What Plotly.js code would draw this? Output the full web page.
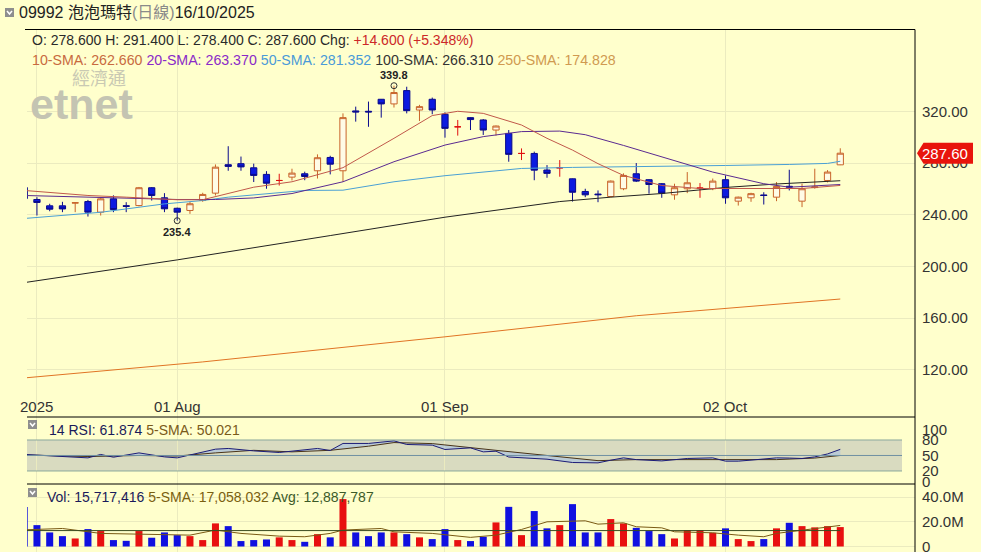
<!DOCTYPE html>
<html><head><meta charset="utf-8">
<script src="https://cdn.plot.ly/plotly-3.0.1.min.js"></script>
<style>html,body{margin:0;padding:0;background:#ffffcc;}#chart{width:981px;height:552px;}</style>
</head><body><div id="chart"></div>
<script>
// ---- data (index -1 = 16 Jul, partly clipped at the left edge) ----
const dates = ["2025-07-16","2025-07-17","2025-07-18","2025-07-21","2025-07-22","2025-07-23","2025-07-24","2025-07-25","2025-07-28","2025-07-29","2025-07-30","2025-07-31",
"2025-08-01","2025-08-04","2025-08-05","2025-08-06","2025-08-07","2025-08-08","2025-08-11","2025-08-12","2025-08-13","2025-08-14","2025-08-15","2025-08-18","2025-08-19","2025-08-20","2025-08-21","2025-08-22","2025-08-25","2025-08-26","2025-08-27","2025-08-28","2025-08-29",
"2025-09-01","2025-09-02","2025-09-03","2025-09-04","2025-09-05","2025-09-08","2025-09-09","2025-09-10","2025-09-11","2025-09-12","2025-09-15","2025-09-16","2025-09-17","2025-09-18","2025-09-19","2025-09-22","2025-09-23","2025-09-24","2025-09-25","2025-09-26","2025-09-29","2025-09-30",
"2025-10-02","2025-10-03","2025-10-06","2025-10-08","2025-10-09","2025-10-10","2025-10-13","2025-10-14","2025-10-15","2025-10-16"];
const open  = [261,251.8,246.9,246.9,249,250.2,242,252.3,247,247.1,260.9,253.1,245,243.3,251,256.7,278.7,279.5,276.3,271.2,266.5,269.1,271.7,274,284.3,274,320.3,320,329.3,325.7,336,321,329.3,317.7,308,315.1,313.3,305.5,302.9,287.4,287.4,274.6,276.3,267.8,258,256,254.1,260.1,271.7,267.1,264,255.4,260.1,260.6,260.1,267.1,250.5,253.1,255.3,253.6,262,250.5,261,266.5,278.6];
const high  = [262,253.6,248.5,250,249.8,251.5,253.6,255,249.7,261.5,261.4,256.7,245.5,250.2,257,278.9,293,285,279.5,273.7,271.7,275.6,273.3,286.7,285.6,318.4,323.6,327.5,329.5,339.8,339,325,330.6,319.2,313.3,315.5,314,309,305.5,291.3,288.8,278.4,282.3,268,260.1,258.8,266.5,272,280,267.5,264.5,264,273,264.5,268,270.4,254,257,257.4,265.3,274.8,264,275.6,274.5,291.4];
const low   = [251.5,239.4,242.7,242,242,238.6,239.4,242,242,246.5,251,242,235.4,240.7,250,254.9,274,274,265.3,260.1,262.6,266.5,266.7,268,271.2,265.5,312,308,315.1,322.9,318.4,312.5,317.7,299.6,301.2,305.5,301.7,301.2,281,282.3,266.7,268.6,269.4,250.2,253.6,249.7,253.5,259,265.3,256.3,253.1,251.6,256.7,253.1,259,248.5,247.1,250,247.9,250.5,258.8,245.9,260.1,265,278.4];
const close = [252.5,249.5,244.3,244.5,249.3,242,252.3,244,246.5,260.9,254.9,244.6,242,248.5,255.7,276.8,277.4,277,270.4,264.4,266.5,272.2,269.6,284.1,279.1,315.1,319.5,319.5,325.7,334.5,320.5,323.6,321,306.8,308,313.6,305.5,308.6,286.7,287.4,274.5,272,276.3,257.4,255.4,255.5,266,270.4,266,263.4,256.7,260.9,264.7,260.6,266,253.1,253.6,256.3,254.9,261.9,261.4,260.1,261.5,273,287.6];
const volumeM = [32,17.3,11.4,8.4,6.5,14.1,12.5,5.2,4.6,12.5,7.1,11.4,9.2,8.4,5.2,18.7,16.5,4.4,5.2,5.7,7.4,5.2,3.8,10,7.4,38.4,11.4,8.4,11.4,11.4,10,7.4,6,14.1,5.2,4.4,7.9,19.5,32.1,9.2,28.7,14.7,17.3,34.3,11.4,11.4,22.2,18.7,15.1,12.5,10,6.5,13.3,13.3,11.1,14.7,6,4.4,6,14.7,19.2,16.5,15.5,16.5,15.717416];

// moving averages (x = bar index)
const sma10X = [-1,4,7,11,13,15,17,20,24,28,31,33,35,38,40,42,44,46,49,52,57,60,63];
const sma10  = [258.8,254.9,253.6,251.6,251.6,256.2,261.3,265.5,276.4,299.1,316.7,320,318.4,309.4,299.1,290,279.5,270.4,262.6,260.3,260.3,260.3,262.66];
const sma20X = [-1,5,11,14,17,20,24,28,32,35,38,41,43,46,49,53,57,59,63];
const sma20  = [254.9,253.3,251.8,251.8,253,256.4,265.5,281,293.9,300.4,304.3,304.7,301.9,293.6,284.6,273,264,261.3,263.37];
const sma50X = [-1,5,10,13,15,21,24,28,32,38,42,50,54,59,62,63];
const sma50  = [237.1,241.9,248.4,251,253.6,258.8,259,265.5,270.2,275.8,276.6,277.4,278.1,278.9,279.7,281.352];
const sma100X = [-1,11,23,32,41,45,49,54,58,63];
const sma100  = [187.5,205.1,223.9,238.1,250.2,253.6,256.4,261.1,263.8,266.31];
const sma250X = [-1,13,32,47,63];
const sma250  = [113.8,126.2,145.6,161.9,174.828];

const rsiX = [-1,2,4,5,6,8,10,11,12,14,15,17,19,20,22,23,24,26,28,29,31,32,34,35,36,37,39,40,42,44,45,46,47,49,51,53,54,55,56,58,59,60,61,62,63];
const rsi  = [52,48.6,45.4,52,46.7,55,47.3,45.4,50.6,62.2,63.6,58.9,55.8,58.3,63.6,59.7,73.3,73.3,78.3,71.3,70,61.6,64.7,57,58.3,47,44.2,42.8,36.4,35.7,40.9,45.4,42,39.5,44.2,45.4,39,39,41,45.4,45,44.2,47.3,53,61.874];
const rsiSmaX = [-1,4,8,11,14,17,20,23,26,28,31,34,36,40,44,47,51,54,58,61,63];
const rsiSma  = [51,48,50,49,55,60,57,60,68,75,73,66,60,50,40,42,42,42,42,45,50.021];

const volSmaX = [-1,2,5,8,12,14,16,19,21,23,24,27,28,31,34,36,38,40,43,44,46,47,49,50,53,55,57,58,60,63];
const volSma  = [13.5,14.6,10.6,10,9.2,13.3,10.6,8.4,7.9,10.6,13.3,14.6,11.9,10.6,7.4,9.2,13.8,20,20.8,18.1,19.2,16,15.1,11.9,11.1,9.2,7.9,10.6,13.3,17.058032];
const volAvg = 12.887787;

const xTickIdx  = [0,11,32,54];
const xTickText = ["2025","01 Aug","01 Sep","02 Oct"];
const priceTicks = [120,160,200,240,280,320];
const rsiTicks = [0,20,50,80,100];
const volTicks = [0,20,40];
const volTickText = ["0","20.0M","40.0M"];
const ticker = "09992 泡泡瑪特", period = "(日線)", asOf = "16/10/2025";

// ---- build ----
const W = 981, H = 552;
const px = x => x / W, py = y => 1 - y / H;
const FONT = "'Liberation Sans', Arial, 'Noto Sans CJK TC', sans-serif";
const BG = '#ffffcc', GRID = '#ebebbf';
const idx = dates.map((d, i) => i - 1);

const isRedDoji = i => open[i] === close[i];
const pick = (arr, keep) => arr.map((v, i) => keep(i) ? v : null);

const candle = {
  type: 'candlestick', x: idx,
  open: pick(open, i => !isRedDoji(i)), high: pick(high, i => !isRedDoji(i)),
  low: pick(low, i => !isRedDoji(i)), close: pick(close, i => !isRedDoji(i)),
  increasing: {line: {color: '#c8642a', width: 1}, fillcolor: '#fffbe6'},
  decreasing: {line: {color: '#0a0a8c', width: 1}, fillcolor: '#0c1ae0'},
  whiskerwidth: 0, hoverinfo: 'skip', xaxis: 'x', yaxis: 'y'
};
const doji = {
  type: 'candlestick', x: idx,
  open: pick(open, isRedDoji), high: pick(high, isRedDoji),
  low: pick(low, isRedDoji), close: pick(close, isRedDoji),
  increasing: {line: {color: '#e01010', width: 1}, fillcolor: '#e01010'},
  decreasing: {line: {color: '#e01010', width: 1}, fillcolor: '#e01010'},
  whiskerwidth: 0, hoverinfo: 'skip', xaxis: 'x', yaxis: 'y'
};
const line = (x, y, color, ax, w) => ({type: 'scatter', mode: 'lines', x, y, line: {color, width: w || 1}, hoverinfo: 'skip', xaxis: ax[0], yaxis: ax[1]});

const first = idx.indexOf(0);
let hiI = first, loI = first;
for (let i = first; i < idx.length; i++) { if (high[i] > high[hiI]) hiI = i; if (low[i] < low[loI]) loI = i; }
const extremes = {type: 'scatter', mode: 'markers', x: [idx[hiI], idx[loI]], y: [high[hiI], low[loI]],
  marker: {symbol: 'circle-open', size: 6, color: '#333', line: {width: 1}}, hoverinfo: 'skip', xaxis: 'x', yaxis: 'y'};

const rsiSmaTr = line(rsiSmaX, rsiSma, '#4a3418', ['x2', 'y2']);
const rsiTr = Object.assign(line(rsiX, rsi, '#1c1c78', ['x2', 'y2']), {fill: 'tonexty', fillcolor: 'rgba(150,185,240,0.45)'});

const volBar = {type: 'bar', x: idx, y: volumeM, width: 0.55,
  marker: {color: idx.map((_, i) => close[i] >= open[i] ? '#e81010' : '#1010e0'), line: {width: 0}},
  hoverinfo: 'skip', xaxis: 'x3', yaxis: 'y3'};
const volSmaTr = line(volSmaX, volSma, '#7a5a14', ['x3', 'y3']);
const volAvgTr = line([-1, 63], [volAvg, volAvg], '#3a4a20', ['x3', 'y3']);

const traces = [
  line(sma250X, sma250, '#e07424', ['x', 'y']),
  line(sma100X, sma100, '#222222', ['x', 'y']),
  line(sma50X, sma50, '#4aa0d4', ['x', 'y']),
  line(sma20X, sma20, '#5a2a90', ['x', 'y']),
  line(sma10X, sma10, '#c0584a', ['x', 'y']),
  candle, doji, extremes,
  rsiSmaTr, rsiTr,
  volBar, volSmaTr, volAvgTr
];

const xr = [-0.78, 68.86];
const xax = (anchor) => ({domain: [px(27), px(915)], range: xr, anchor, tickvals: xTickIdx, showticklabels: false,
  showgrid: true, gridcolor: GRID, zeroline: false, showline: false, ticks: '', fixedrange: true, rangeslider: {visible: false}});
const yax = (dom, range, tickvals, extra) => Object.assign({domain: dom, range, side: 'right', tickvals,
  tickfont: {size: 15, color: '#333', family: FONT}, showgrid: true, gridcolor: GRID, zeroline: false, showline: false,
  ticks: '', ticklabelstandoff: 6, ticklabeloverflow: 'allow', fixedrange: true}, extra);

const last = idx.length - 1;
const chg = close[last] - close[last - 1];
const pct = chg / close[last - 1] * 100;
const sgn = v => (v >= 0 ? '+' : '') + v.toFixed(3);
const fmtInt = v => Math.round(v * 1e6).toLocaleString('en-US');

const ann = (x, y, text, size, color, extra) => Object.assign({xref: 'paper', yref: 'paper', x: px(x), y: py(y), text,
  showarrow: false, xanchor: 'left', yanchor: 'middle', font: {family: FONT, size, color}}, extra);

const annotations = [
  ann(17, 13, `${ticker}<span style="color:#8a8a8a">${period}</span>${asOf}`, 16, '#222'),
  ann(30, 39.5, `O: ${open[last].toFixed(3)} H: ${high[last].toFixed(3)} L: ${low[last].toFixed(3)} C: ${close[last].toFixed(3)} Chg: <span style="color:#cc2828">${sgn(chg)} (${sgn(pct)}%)</span>`, 14, '#2a2a2a'),
  ann(30, 60, `<span style="color:#c86a40">10-SMA: ${sma10[sma10.length-1].toFixed(3)}</span> <span style="color:#8a2ac8">20-SMA: ${sma20[sma20.length-1].toFixed(3)}</span> <span style="color:#4a9ad8">50-SMA: ${sma50[sma50.length-1].toFixed(3)}</span> <span style="color:#333">100-SMA: ${sma100[sma100.length-1].toFixed(3)}</span> <span style="color:#d09a50">250-SMA: ${sma250[sma250.length-1].toFixed(3)}</span>`, 14.2, '#333'),
  ann(99, 77, '經濟通', 18, '#c9c9b3', {xanchor: 'center', font: {family: "'Noto Sans CJK TC'", size: 18, color: '#c9c9b3'}}),
  ann(81, 104, '<b>etnet</b>', 43, '#c4c4b2', {xanchor: 'center'}),
  ann(47, 430, `14 RSI: ${rsi[rsi.length-1].toFixed(3)} <span style="color:#7a5a1a">5-SMA: ${rsiSma[rsiSma.length-1].toFixed(3)}</span>`, 14, '#1a1a5a'),
  ann(45, 497, `Vol: ${fmtInt(volumeM[last])} <span style="color:#7a6010">5-SMA: ${fmtInt(volSma[volSma.length-1])}</span> <span style="color:#3c5a28">Avg: ${fmtInt(volAvg)}</span>`, 14, '#1a1a5a'),
  {xref: 'paper', yref: 'y', x: px(945), y: close[last], text: close[last].toFixed(2), showarrow: false, xanchor: 'center', yanchor: 'middle',
   font: {family: FONT, size: 15, color: '#ffffff'}},
  {xref: 'x', yref: 'y', x: idx[hiI], y: high[hiI], text: '<b>' + high[hiI].toFixed(1) + '</b>', showarrow: false, yanchor: 'bottom', yshift: 3,
   font: {family: FONT, size: 11, color: '#222'}},
  {xref: 'x', yref: 'y', x: idx[loI], y: low[loI], text: '<b>' + low[loI].toFixed(1) + '</b>', showarrow: false, yanchor: 'top', yshift: -3,
   font: {family: FONT, size: 11, color: '#222'}}
];
xTickIdx.forEach((v, k) => annotations.push({xref: 'x', yref: 'paper', x: v, y: py(406), text: xTickText[k], showarrow: false,
  xanchor: 'center', yanchor: 'middle', font: {family: FONT, size: 15, color: '#333'}}));

const hl = (y, x0, x1, color) => ({type: 'line', xref: 'paper', yref: 'paper', x0: px(x0), x1: px(x1), y0: py(y), y1: py(y), line: {color, width: 1}});
const icon = (x, y) => [
  {type: 'rect', xref: 'paper', yref: 'paper', x0: px(x), x1: px(x + 9), y0: py(y), y1: py(y + 9), fillcolor: '#8e8e8e', line: {width: 0}},
  {type: 'path', xref: 'paper', yref: 'paper', path: `M ${px(x+2)},${py(y+3)} L ${px(x+4.5)},${py(y+6)} L ${px(x+7)},${py(y+3)}`, line: {color: '#ffffff', width: 1.5}}
];
const tagH = 8.1;
const shapes = [
  {type: 'rect', xref: 'paper', yref: 'y2', x0: px(27), x1: px(902), y0: 20, y1: 80, fillcolor: '#d9dbc0', line: {width: 0}, layer: 'below'},
  {type: 'line', xref: 'paper', yref: 'y2', x0: px(27), x1: px(902), y0: 80, y1: 80, line: {color: '#8aa89c', width: 1}},
  {type: 'line', xref: 'paper', yref: 'y2', x0: px(27), x1: px(902), y0: 20, y1: 20, line: {color: '#8aa89c', width: 1}},
  {type: 'line', xref: 'paper', yref: 'y2', x0: px(27), x1: px(902), y0: 50, y1: 50, line: {color: '#7090a2', width: 1}},
  hl(29.5, 25, 915, '#000'), hl(417, 27, 915, '#000'), hl(484, 27, 915, '#000'),
  {type: 'line', xref: 'paper', yref: 'paper', x0: px(915), x1: px(915), y0: py(29.5), y1: 0, line: {color: '#000', width: 1}},
  {type: 'path', xref: 'paper', yref: 'y', fillcolor: '#e8140c', line: {width: 0},
   path: `M ${px(917)},${close[last]} L ${px(923.5)},${close[last] + tagH} L ${px(973)},${close[last] + tagH} L ${px(973)},${close[last] - tagH} L ${px(923.5)},${close[last] - tagH} Z`},
  ...icon(5, 8), ...icon(28, 420), ...icon(28, 488)
];

const layout = {
  width: W, height: H, margin: {l: 0, r: 0, t: 0, b: 0}, paper_bgcolor: BG, plot_bgcolor: BG, showlegend: false,
  font: {family: FONT, color: '#333'}, hovermode: false, barmode: 'overlay',
  xaxis: xax('y'), xaxis2: xax('y2'), xaxis3: xax('y3'),
  yaxis: yax([py(417), py(29.5)], [83.6, 383.25], priceTicks, {tickformat: '.2f', anchor: 'x'}),
  yaxis2: yax([py(484), py(417)], [-5.2, 124.5], rsiTicks, {anchor: 'x2', showgrid: false}),
  yaxis3: yax([0, py(484)], [-4.45, 50.6], volTicks, {anchor: 'x3', ticktext: volTickText}),
  annotations, shapes
};
Plotly.newPlot('chart', traces, layout, {staticPlot: true, displayModeBar: false});
</script></body></html>
